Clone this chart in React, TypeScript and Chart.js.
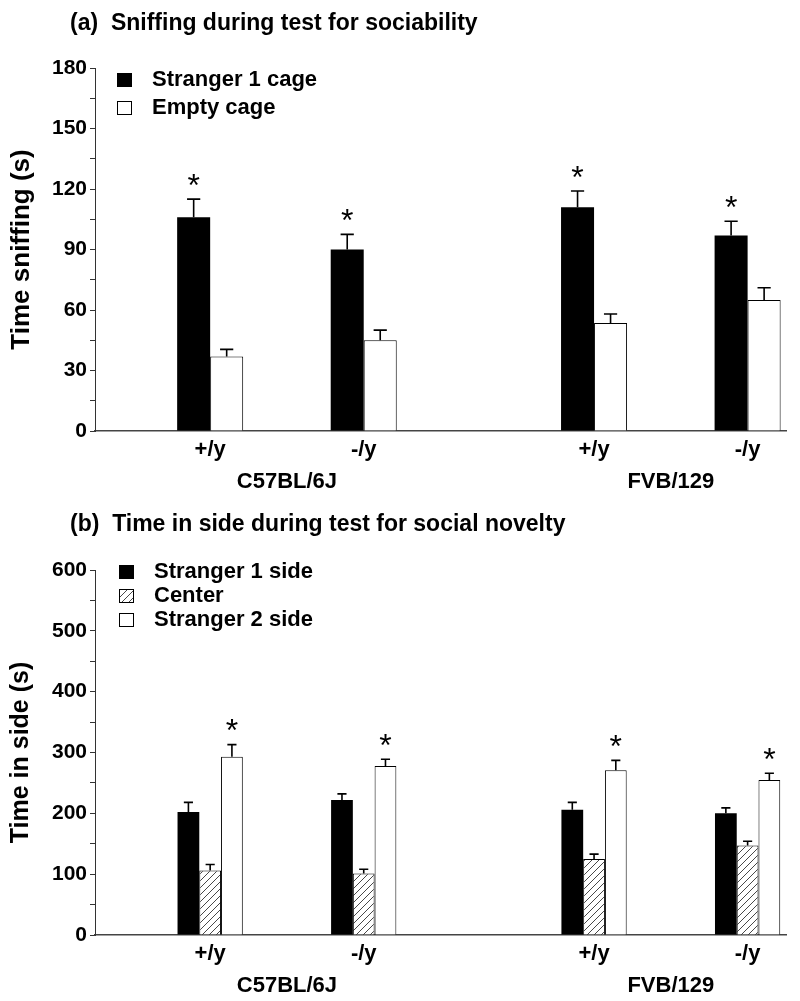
import React, { useEffect, useRef } from 'react';
import { Chart, registerables } from 'chart.js';

Chart.register(...registerables);

const FONT = '"Liberation Sans", Arial, Helvetica, sans-serif';

// ---- categories ----
const genotypes = ['+/y', '-/y', '+/y', '-/y'];
const strains = ['C57BL/6J', 'FVB/129'];

// ---- panel (a): sniffing during test for sociability ----
const sniffSeriesNames = ['Stranger 1 cage', 'Empty cage'];
const sniffStranger1 = [106, 90, 111, 97];
const sniffStranger1Sem = [9, 7.5, 8, 7];
const sniffEmpty = [37, 45, 53.5, 65];
const sniffEmptySem = [3.5, 5, 4.5, 6];
const sniffYTickLabels = [0, 30, 60, 90, 120, 150, 180];

// ---- panel (b): time in side during test for social novelty ----
const sideSeriesNames = ['Stranger 1 side', 'Center', 'Stranger 2 side'];
const sideStranger1 = [202, 222, 206, 200];
const sideStranger1Sem = [16, 10, 12, 9];
const sideCenter = [106, 101, 125, 147];
const sideCenterSem = [10, 7, 8, 7];
const sideStranger2 = [293, 278, 271, 255];
const sideStranger2Sem = [20, 11, 16, 11];
const sideYTickLabels = [0, 100, 200, 300, 400, 500, 600];

// ---- slot layout on the category axis (spacers between groups) ----
const N_SLOTS = 9;
const BAR_SLOTS = [1, 3, 6, 8];
const STRAIN_SLOTS = [2, 7];

function buildLabels(): string[][] {
  const labels: string[][] = Array.from({ length: N_SLOTS }, () => ['', '']);
  genotypes.forEach((g, i) => (labels[BAR_SLOTS[i]] = [g, '']));
  strains.forEach((s, i) => (labels[STRAIN_SLOTS[i]] = ['', s]));
  return labels;
}
function toSlots(values: number[]): (number | null)[] {
  const arr: (number | null)[] = new Array(N_SLOTS).fill(null);
  values.forEach((v, i) => (arr[BAR_SLOTS[i]] = v));
  return arr;
}

function makeHatch(ctx: CanvasRenderingContext2D) {
  const s = 7;
  const c = document.createElement('canvas');
  c.width = s;
  c.height = s;
  const g = c.getContext('2d')!;
  g.fillStyle = '#fff';
  g.fillRect(0, 0, s, s);
  g.strokeStyle = '#333';
  g.lineWidth = 0.9;
  g.beginPath();
  g.moveTo(0, s);
  g.lineTo(s, 0);
  g.moveTo(-1, 1);
  g.lineTo(1, -1);
  g.moveTo(s - 1, s + 1);
  g.lineTo(s + 1, s - 1);
  g.stroke();
  return ctx.createPattern(c, 'repeat')!;
}

type Fill = 'black' | 'white' | 'hatch';
type Series = { label: string; values: number[]; sem: number[]; fill: Fill; stars: boolean };
type PanelSpec = {
  title: string;
  yTitle: string;
  yTitleSize: number;
  yMax: number;
  yStep: number;
  yLabels: number[];
  series: Series[];
  catPct: number;
  capRatio: number;
  canvasTop: number;
  canvasHeight: number;
  chartTop: number;
  xAxisHeight: number;
  titleY: number;
  legendX: number;
  legendY: number;
  legendGap: number;
};

const panels: PanelSpec[] = [
  {
    title: '(a)  Sniffing during test for sociability',
    yTitle: 'Time sniffing (s)',
    yTitleSize: 26,
    yMax: 180,
    yStep: 15,
    yLabels: sniffYTickLabels,
    series: [
      { label: sniffSeriesNames[0], values: sniffStranger1, sem: sniffStranger1Sem, fill: 'black', stars: true },
      { label: sniffSeriesNames[1], values: sniffEmpty, sem: sniffEmptySem, fill: 'white', stars: false },
    ],
    catPct: 0.86,
    capRatio: 0.4,
    canvasTop: 0,
    canvasHeight: 500,
    chartTop: 68,
    xAxisHeight: 69,
    titleY: 24,
    legendX: 117,
    legendY: 80,
    legendGap: 28,
  },
  {
    title: '(b)  Time in side during test for social novelty',
    yTitle: 'Time in side (s)',
    yTitleSize: 25,
    yMax: 600,
    yStep: 50,
    yLabels: sideYTickLabels,
    series: [
      { label: sideSeriesNames[0], values: sideStranger1, sem: sideStranger1Sem, fill: 'black', stars: false },
      { label: sideSeriesNames[1], values: sideCenter, sem: sideCenterSem, fill: 'hatch', stars: false },
      { label: sideSeriesNames[2], values: sideStranger2, sem: sideStranger2Sem, fill: 'white', stars: true },
    ],
    catPct: 0.85,
    capRatio: 0.42,
    canvasTop: 500,
    canvasHeight: 501,
    chartTop: 70,
    xAxisHeight: 66,
    titleY: 25,
    legendX: 119,
    legendY: 72,
    legendGap: 24,
  },
];

function Panel({ spec }: { spec: PanelSpec }) {
  const ref = useRef<HTMLCanvasElement>(null);

  useEffect(() => {
    const canvas = ref.current!;
    const ctx = canvas.getContext('2d')!;
    const hatch = makeHatch(ctx);
    const fillOf = (f: Fill) => (f === 'black' ? '#000' : f === 'white' ? '#fff' : hatch);

    const datasets = spec.series.map((s) => ({
      label: s.label,
      data: toSlots(s.values),
      errors: toSlots(s.sem),
      stars: s.stars,
      backgroundColor: fillOf(s.fill),
      borderColor: '#000',
      borderWidth: s.fill === 'black' ? 0 : 1,
      borderSkipped: 'bottom',
    }));

    const titlePlugin = {
      id: 'panelTitle',
      afterDraw(chart: any) {
        const c = chart.ctx;
        c.save();
        c.fillStyle = '#000';
        c.font = `bold 23px ${FONT}`;
        c.textAlign = 'left';
        c.textBaseline = 'middle';
        c.fillText(spec.title, 70, spec.titleY);
        c.restore();
      },
    };

    const errorPlugin = {
      id: 'errorBars',
      afterDatasetsDraw(chart: any) {
        const c = chart.ctx;
        const ys = chart.scales.y;
        chart.data.datasets.forEach((ds: any, di: number) => {
          const meta = chart.getDatasetMeta(di);
          meta.data.forEach((el: any, i: number) => {
            const v = ds.data[i];
            const e = ds.errors[i];
            if (v == null || e == null) return;
            const x = el.x;
            const y0 = ys.getPixelForValue(v);
            const y1 = ys.getPixelForValue(v + e);
            const w = el.width * spec.capRatio;
            c.save();
            c.strokeStyle = '#000';
            c.lineWidth = 1.6;
            c.beginPath();
            c.moveTo(x, y0);
            c.lineTo(x, y1);
            c.moveTo(x - w / 2, y1);
            c.lineTo(x + w / 2, y1);
            c.stroke();
            if (ds.stars) {
              c.fillStyle = '#000';
              c.font = `normal 32px ${FONT}`;
              c.textAlign = 'center';
              c.textBaseline = 'alphabetic';
              c.fillText('*', x, y1 - 22 + 18.5);
            }
            c.restore();
          });
        });
      },
    };

    const legendPlugin = {
      id: 'panelLegend',
      afterDraw(chart: any) {
        const c = chart.ctx;
        c.save();
        spec.series.forEach((s, i) => {
          const cy = spec.legendY + i * spec.legendGap;
          const bx = spec.legendX;
          const by = cy - 7;
          c.fillStyle = fillOf(s.fill);
          c.fillRect(bx, by, 15, 14);
          if (s.fill !== 'black') {
            c.strokeStyle = '#000';
            c.lineWidth = 1;
            c.strokeRect(bx + 0.5, by + 0.5, 14, 13);
          }
          c.fillStyle = '#000';
          c.font = `bold 22px ${FONT}`;
          c.textAlign = 'left';
          c.textBaseline = 'middle';
          c.fillText(s.label, bx + 35, cy);
        });
        c.restore();
      },
    };

    const chart = new Chart(canvas, {
      type: 'bar',
      data: { labels: buildLabels(), datasets: datasets as any },
      options: {
        responsive: false,
        animation: false,
        devicePixelRatio: 1,
        layout: { padding: { left: 0, right: 14, top: spec.chartTop, bottom: 0 } },
        plugins: {
          legend: { display: false },
          tooltip: { enabled: false },
          title: { display: false },
        },
        datasets: { bar: { categoryPercentage: spec.catPct, barPercentage: 1 } },
        scales: {
          x: {
            type: 'category',
            offset: true,
            grid: { display: false, drawTicks: false },
            border: { display: true, color: '#444', width: 1.5 },
            ticks: {
              autoSkip: false,
              maxRotation: 0,
              minRotation: 0,
              padding: 3,
              color: '#000',
              font: { family: FONT, size: 22, weight: 'bold', lineHeight: 1.45 },
            },
            afterFit: (s: any) => {
              s.height = spec.xAxisHeight;
            },
          },
          y: {
            min: 0,
            max: spec.yMax,
            ticks: {
              stepSize: spec.yStep,
              autoSkip: false,
              padding: 3,
              color: '#000',
              font: { family: FONT, size: 21, weight: 'bold' },
              callback: (v: any) => (spec.yLabels.includes(Number(v)) ? String(v) : ''),
            },
            grid: { display: true, drawOnChartArea: false, drawTicks: true, tickLength: 5, color: '#333', lineWidth: 1 },
            border: { display: true, color: '#333', width: 1 },
            title: {
              display: true,
              text: spec.yTitle,
              color: '#000',
              font: { family: FONT, size: spec.yTitleSize, weight: 'bold' },
              padding: { top: 6, bottom: 0 },
            },
            afterFit: (s: any) => {
              s.width = 95;
            },
          },
        },
      } as any,
      plugins: [titlePlugin, errorPlugin, legendPlugin],
    });
    return () => chart.destroy();
  }, [spec]);

  return (
    <canvas
      ref={ref}
      width={800}
      height={spec.canvasHeight}
      style={{ position: 'absolute', left: 0, top: spec.canvasTop, width: 800, height: spec.canvasHeight, display: 'block' }}
    />
  );
}

export default function App() {
  return (
    <div style={{ position: 'absolute', left: 0, top: 0, width: 800, height: 1001, background: '#fff', overflow: 'hidden' }}>
      {panels.map((p, i) => (
        <Panel key={i} spec={p} />
      ))}
    </div>
  );
}
